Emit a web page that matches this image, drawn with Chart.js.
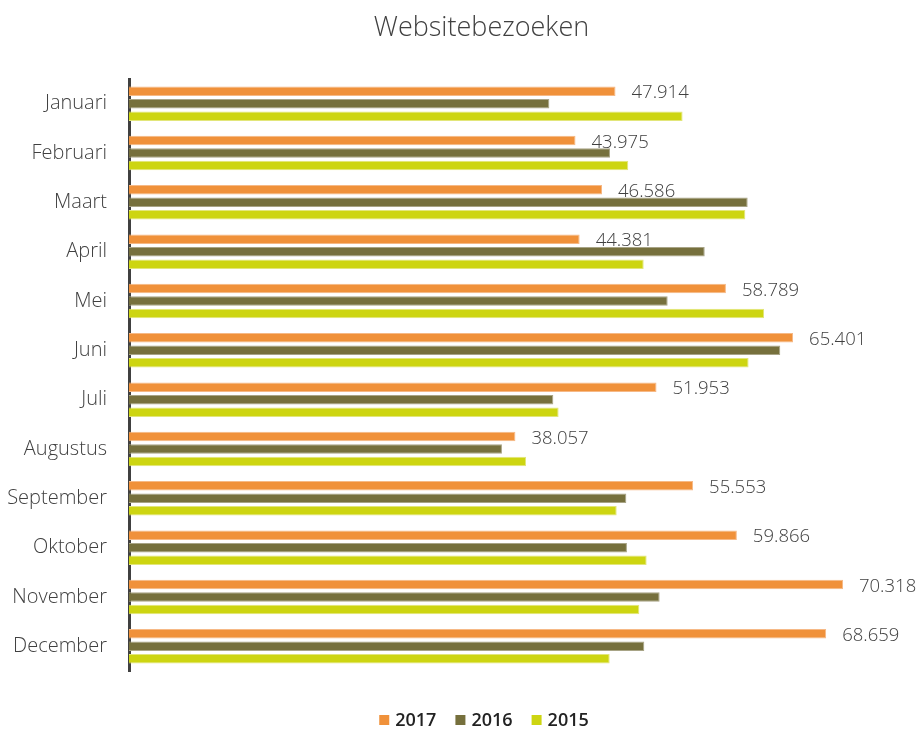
<!DOCTYPE html>
<html>
<head>
<meta charset="utf-8">
<script src="https://cdn.jsdelivr.net/npm/chart.js@4"></script>
<style>
html,body{margin:0;padding:0;background:#fff;}
#wrap{width:921px;height:729px;}
</style>
</head>
<body>
<div id="wrap"><canvas id="c" width="921" height="729"></canvas></div>
<script>
const months = ["Januari","Februari","Maart","April","Mei","Juni","Juli","Augustus","September","Oktober","November","December"];
const v2017 = [47914,43975,46586,44381,58789,65401,51953,38057,55553,59866,70318,68659];
const v2016 = [41400,47370,60930,56700,53050,64140,41790,36730,48980,49040,52260,50750];
const v2015 = [54520,49170,60700,50690,62540,61020,42310,39100,48030,50980,50260,47340];
const seriesNames = ["2017","2016","2015"];
const seriesColors = ['#F0913A','#76703D','#CDD511'];
const seriesBorders = ['#F6B986','#A8A486','#E2E67A'];
const chartTitle = "Websitebezoeken";

function fmt(n){ return String(n).replace(/\B(?=(\d{3})+(?!\d))/g, "."); }

const labelPlugin = {
  id: 'barLabels',
  afterDatasetsDraw(chart){
    const ctx = chart.ctx;
    const meta = chart.getDatasetMeta(0);
    ctx.save();
    ctx.font = '300 18.5px "Open Sans"';
    ctx.fillStyle = '#404040';
    ctx.textAlign = 'left';
    ctx.textBaseline = 'middle';
    meta.data.forEach((el, i) => {
      ctx.fillText(fmt(v2017[i]), el.x + 16, el.y + 2);
    });
    ctx.restore();
  }
};

const titleLegendPlugin = {
  id: 'titleLegend',
  afterDraw(chart){
    const ctx = chart.ctx;
    ctx.save();
    // title
    ctx.font = '300 27px "Open Sans"';
    ctx.fillStyle = '#404040';
    ctx.textAlign = 'center';
    ctx.textBaseline = 'middle';
    ctx.fillText(chartTitle, 481.5, 28);
    // legend
    ctx.font = '600 18px "Open Sans"';
    const box = 10, gap = 6, spacing = 19;
    const widths = seriesNames.map(n => ctx.measureText(n).width);
    let total = 0;
    widths.forEach((w, i) => { total += box + gap + w + (i < widths.length - 1 ? spacing : 0); });
    let x = 484 - total / 2;
    const cy = 720;
    ctx.textAlign = 'left';
    seriesNames.forEach((n, i) => {
      ctx.fillStyle = seriesColors[i];
      ctx.fillRect(x, cy - box / 2, box, box);
      ctx.fillStyle = '#222';
      ctx.fillText(n, x + box + gap, cy + 1);
      x += box + gap + widths[i] + spacing;
    });
    ctx.restore();
  }
};

new Chart(document.getElementById('c'), {
  type: 'bar',
  data: {
    labels: months,
    datasets: seriesNames.map((n, i) => ({
      label: n,
      data: [v2017, v2016, v2015][i],
      backgroundColor: seriesColors[i],
      borderColor: seriesBorders[i],
      borderWidth: 1
    }))
  },
  options: {
    indexAxis: 'y',
    responsive: false,
    animation: false,
    devicePixelRatio: 1,
    categoryPercentage: 0.76,
    barPercentage: 0.76,
    layout: {padding: {left: 0, right: 0, top: 79, bottom: 0}},
    scales: {
      x: {
        min: 0, max: 78000,
        display: true,
        grid: {display: false, drawTicks: false},
        border: {display: false},
        ticks: {display: false},
        afterFit(s){ s.height = 58; }
      },
      y: {
        grid: {display: false, drawTicks: false},
        border: {display: true, color: '#404040', width: 3},
        ticks: {color: '#404040', font: {family: '"Open Sans"', size: 20, weight: 300}, padding: 22},
        afterFit(s){ s.width = 129; }
      }
    },
    plugins: {
      title: {display: false},
      legend: {display: false},
      tooltip: {enabled: false}
    }
  },
  plugins: [labelPlugin, titleLegendPlugin]
});
</script>
</body>
</html>
